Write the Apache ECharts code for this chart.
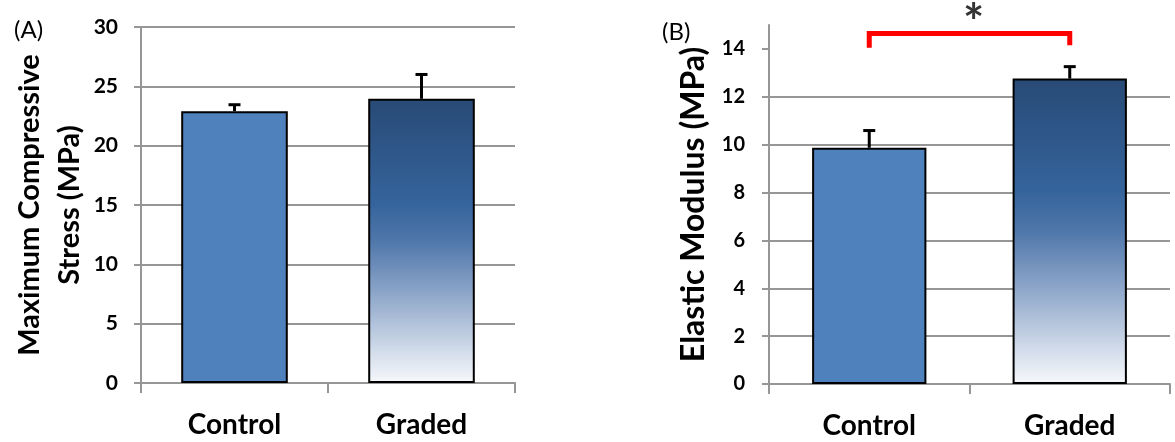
<!DOCTYPE html>
<html><head><meta charset="utf-8">
<script src="https://cdn.jsdelivr.net/npm/echarts@6/dist/echarts.min.js"></script>
<style>html,body{margin:0;padding:0;background:#fff}#c{width:1175px;height:442px}</style>
</head><body><div id="c"></div>
<script>
// ---- data ----
const categories = ['Control', 'Graded'];
const stressMeans = [22.9, 23.95];
const stressErrors = [0.55, 2.05];
const modulusMeans = [9.87, 12.76];
const modulusErrors = [0.72, 0.5];
const stressTicks = [0, 5, 10, 15, 20, 25, 30];
const modulusTicks = [0, 2, 4, 6, 8, 10, 12, 14];
const sigBracket = [[0, 14.05], [0, 14.65], [1, 14.65], [1, 14.15]];
const sigMark = [[0.52, 15.6]];
const sigText = '*';
const panelLabels = ['(A)', '(B)'];
const yTitles = ['Maximum Compressive\nStress (MPa)', 'Elastic Modulus (MPa)'];

// ---- styles ----
const FONT = 'Lato';
const GRID_COLOR = '#969696';
const solidBlue = '#4f81bd';
const gradedFill = new echarts.graphic.LinearGradient(0, 0, 0, 1, [
  { offset: 0, color: '#284a76' },
  { offset: 0.37, color: '#35649c' },
  { offset: 0.5, color: '#4f77aa' },
  { offset: 0.6, color: '#7090bb' },
  { offset: 0.75, color: '#a3b7d4' },
  { offset: 0.9, color: '#d6dfec' },
  { offset: 1, color: '#f6f8fb' }
]);
const fills = [solidBlue, gradedFill];

function barData(means) {
  return means.map((v, i) => ({
    value: v,
    itemStyle: { color: fills[i], borderColor: '#000', borderWidth: 2 }
  }));
}
function errData(means, errs) {
  return means.map((v, i) => [i, v, errs[i]]);
}
function errRender(params, api) {
  const i = api.value(0), v = api.value(1), e = api.value(2);
  const base = api.coord([i, v]);
  const top = api.coord([i, v + e]);
  const hw = 6;
  return {
    type: 'group',
    children: [
      { type: 'line', shape: { x1: base[0], y1: base[1], x2: top[0], y2: top[1] }, style: { stroke: '#000', lineWidth: 3 } },
      { type: 'line', shape: { x1: top[0] - hw, y1: top[1], x2: top[0] + hw, y2: top[1] }, style: { stroke: '#000', lineWidth: 3 } }
    ]
  };
}
function catAxis(gridIndex) {
  return {
    type: 'category', gridIndex, data: categories,
    axisLine: { show: true, onZero: false, lineStyle: { color: GRID_COLOR, width: 2 } },
    axisTick: { show: true, length: 10, alignWithLabel: false, lineStyle: { color: GRID_COLOR, width: 2 } },
    axisLabel: { fontFamily: FONT, fontWeight: 'bold', fontSize: 28, color: '#000', margin: 28 },
    splitLine: { show: false }
  };
}
function valAxis(gridIndex, opts) {
  return Object.assign({
    type: 'value', gridIndex, min: 0,
    nameLocation: 'middle', nameRotate: 90,
    axisLine: { show: true, onZero: false, lineStyle: { color: GRID_COLOR, width: 2 } },
    axisTick: { show: true, length: 7, lineStyle: { color: GRID_COLOR, width: 2 } },
    splitLine: { show: true, lineStyle: { color: GRID_COLOR, width: 2 } }
  }, opts);
}

const chart = echarts.init(document.getElementById('c'), null, { renderer: 'canvas' });
chart.setOption({
  animation: false,
  backgroundColor: '#fff',
  title: [
    { text: panelLabels[0], left: 9, top: 13, textStyle: { fontFamily: FONT, fontWeight: 'normal', fontSize: 24, color: '#000' } },
    { text: panelLabels[1], left: 657, top: 15, textStyle: { fontFamily: FONT, fontWeight: 'normal', fontSize: 24, color: '#000' } }
  ],
  grid: [
    { left: 141, top: 27, width: 374, height: 356 },
    { left: 769, top: 25, width: 401, height: 359 }
  ],
  xAxis: [
    catAxis(0),
    catAxis(1),
    { type: 'value', gridIndex: 1, min: -0.5, max: 1.5, show: false, axisLine: { onZero: false } }
  ],
  yAxis: [
    valAxis(0, {
      max: stressTicks[stressTicks.length - 1], interval: stressTicks[1] - stressTicks[0],
      name: yTitles[0], nameGap: 46,
      nameTextStyle: { fontFamily: FONT, fontWeight: 'bold', fontSize: 29, lineHeight: 40, color: '#000' },
      axisLabel: { fontFamily: FONT, fontWeight: 'bold', fontSize: 21, color: '#000', margin: 23 }
    }),
    valAxis(1, {
      max: 15, interval: modulusTicks[1] - modulusTicks[0],
      name: yTitles[1], nameGap: 58,
      nameTextStyle: { fontFamily: FONT, fontWeight: 'bold', fontSize: 32, lineHeight: 34, color: '#000' },
      axisLabel: { fontFamily: FONT, fontWeight: 'bold', fontSize: 20, color: '#000', margin: 24, customValues: modulusTicks },
      axisTick: { show: true, length: 7, lineStyle: { color: GRID_COLOR, width: 2 }, customValues: modulusTicks },
      splitLine: { show: true, showMaxLine: false, lineStyle: { color: GRID_COLOR, width: 2 } }
    })
  ],
  series: [
    { type: 'bar', xAxisIndex: 0, yAxisIndex: 0, barWidth: '57%', data: barData(stressMeans), z: 2 },
    { type: 'custom', xAxisIndex: 0, yAxisIndex: 0, renderItem: errRender, data: errData(stressMeans, stressErrors), encode: { x: 0, y: 1 }, z: 5 },
    { type: 'bar', xAxisIndex: 1, yAxisIndex: 1, barWidth: '57%', data: barData(modulusMeans), z: 2 },
    { type: 'custom', xAxisIndex: 1, yAxisIndex: 1, renderItem: errRender, data: errData(modulusMeans, modulusErrors), encode: { x: 0, y: 1 }, z: 5 },
    { type: 'line', xAxisIndex: 2, yAxisIndex: 1, data: sigBracket, symbol: 'none', clip: false,
      lineStyle: { color: '#ff0000', width: 5, join: 'miter', cap: 'butt' }, z: 6 },
    { type: 'scatter', xAxisIndex: 2, yAxisIndex: 1, data: sigMark, symbolSize: 0, clip: false,
      label: { show: true, position: 'inside', offset: [0, 13], formatter: sigText, fontFamily: FONT, fontWeight: 'bold', fontSize: 50, color: '#000' }, z: 6 }
  ]
});
</script>
</body></html>
